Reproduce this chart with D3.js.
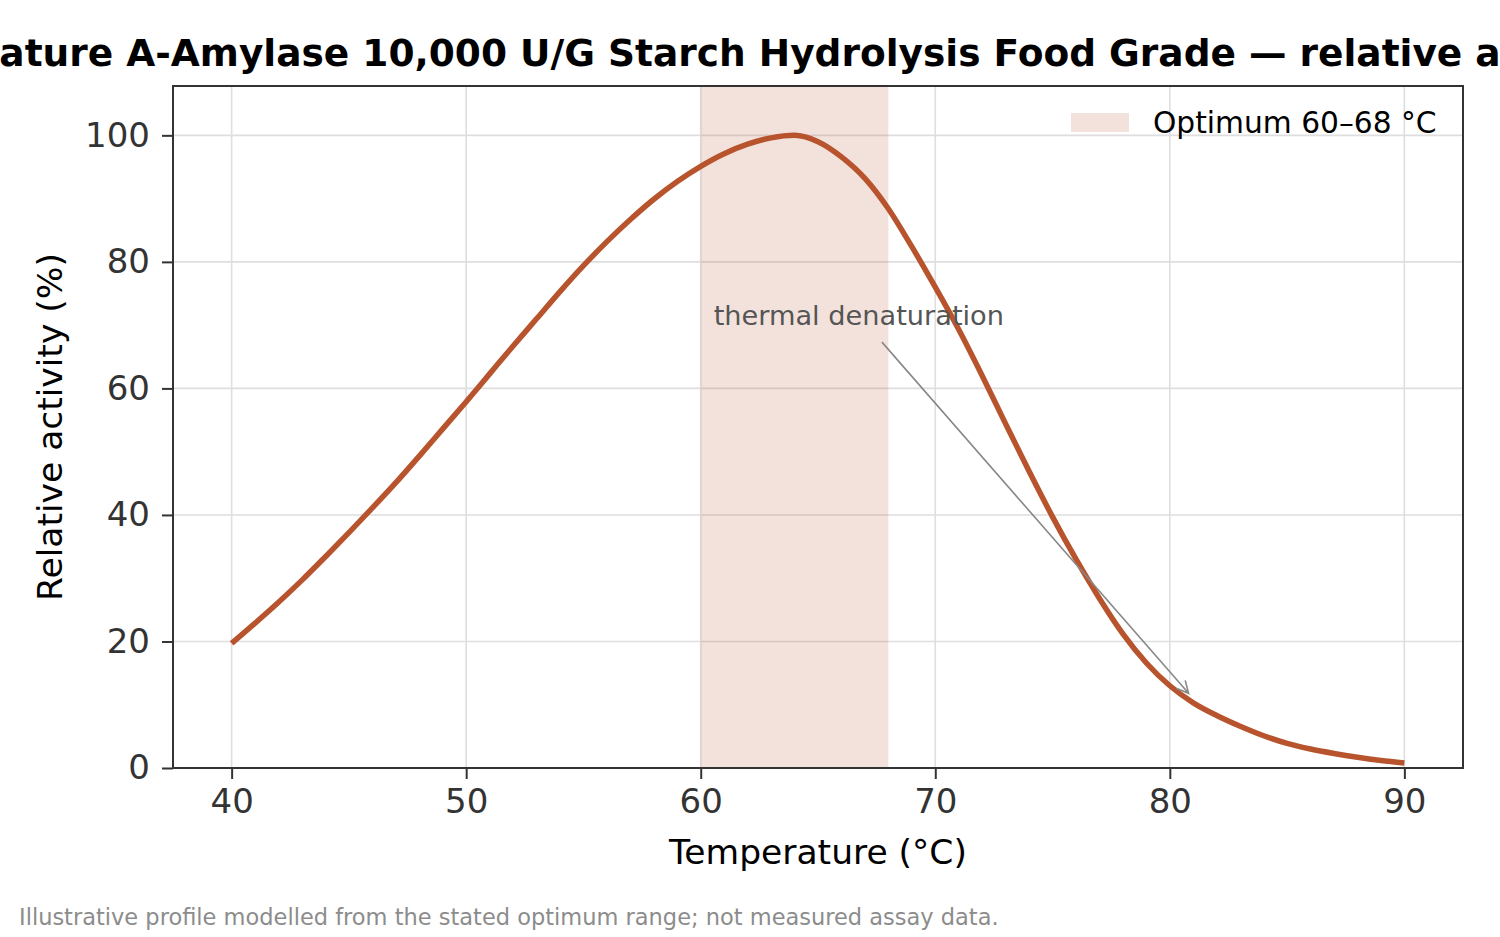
<!DOCTYPE html>
<html>
<head>
<meta charset="utf-8">
<script src="https://cdn.jsdelivr.net/npm/d3@7"></script>
<style>
  body { margin: 0; background: #fff; }
  svg { display: block; font-family: "DejaVu Sans", sans-serif; }
</style>
</head>
<body>
<div id="chart"></div>
<script>
// ---- data ----
const temps = [40,41,42,43,44,45,46,47,48,49,50,51,52,53,54,55,56,57,58,59,60,
               61,62,63,64,65,66,67,68,69,70,71,72,73,74,75,76,77,78,79,80,
               81,82,83,84,85,86,87,88,89,90];
const activity = [19.7,22.9,26.2,29.7,33.4,37.2,41.1,45.1,49.3,53.6,57.9,
                  62.3,66.7,71.0,75.3,79.4,83.2,86.7,89.9,92.7,95.1,
                  97.1,98.6,99.6,100.0,99.0,96.6,93.2,88.4,82.4,76.0,
                  69.3,62.0,54.4,46.9,39.7,33.0,26.8,21.2,16.6,13.0,
                  10.3,8.3,6.6,5.1,3.9,3.0,2.3,1.7,1.2,0.8];
const xTicks = [40,50,60,70,80,90];
const yTicks = [0,20,40,60,80,100];
const optimumRange = [60, 68];
const legendLabel = 'Optimum 60–68 °C';
const noteText = 'thermal denaturation';
const noteAt = [60.55, 70];      // text position (°C, %)
const noteArrowTo = [80.8, 11.8];
const titleHidden = 'High Temper';                       // falls off the left edge
const titleShown = 'ature A-Amylase 10,000 U/G Starch Hydrolysis Food Grade — relative a';
const titleTail = 'ctivity vs temperature';              // falls off the right edge
const xLabel = 'Temperature (°C)';
const yLabel = 'Relative activity (%)';
const footText = 'Illustrative profile modelled from the stated optimum range; not measured assay data.';

const W = 1500, H = 937;
const box = { left: 173, right: 1463, top: 86, bottom: 768 };
const lineColor = '#b8542d';
const axisColor = '#333333';
const gridColor = '#dedede';

const svg = d3.select('#chart').append('svg')
  .attr('width', W).attr('height', H);

const x = d3.scaleLinear().domain([37.5, 92.5]).range([box.left, box.right]);
const y = d3.scaleLinear().domain([0, 107.8]).range([box.bottom, box.top]);

// grid
const grid = svg.append('g');
grid.selectAll('line.gx').data(xTicks).join('line')
  .attr('x1', d => x(d)).attr('x2', d => x(d))
  .attr('y1', box.top).attr('y2', box.bottom)
  .attr('stroke', gridColor).attr('stroke-width', 1.6);
grid.selectAll('line.gy').data(yTicks).join('line')
  .attr('x1', box.left).attr('x2', box.right)
  .attr('y1', d => y(d)).attr('y2', d => y(d))
  .attr('stroke', gridColor).attr('stroke-width', 1.6);

// optimum band
svg.append('rect')
  .attr('x', x(optimumRange[0]))
  .attr('width', x(optimumRange[1]) - x(optimumRange[0]))
  .attr('y', box.top).attr('height', box.bottom - box.top)
  .attr('fill', lineColor).attr('fill-opacity', 0.17);

// curve
const pts = temps.map((t, i) => [t, activity[i]]);
svg.append('path')
  .datum(pts)
  .attr('fill', 'none')
  .attr('stroke', lineColor)
  .attr('stroke-width', 5.5)
  .attr('stroke-linejoin', 'round')
  .attr('stroke-linecap', 'butt')
  .attr('d', d3.line().x(d => x(d[0])).y(d => y(d[1])).curve(d3.curveMonotoneX));

// annotation
const note = svg.append('text')
  .attr('x', x(noteAt[0])).attr('y', y(noteAt[1]))
  .attr('fill', '#555').attr('font-size', '27.2px')
  .text(noteText);
const bb = note.node().getBBox();
const cx = bb.x + bb.width / 2, cy = bb.y + bb.height / 2;
const tx = x(noteArrowTo[0]), ty = y(noteArrowTo[1]);
const yStart = bb.y + bb.height + 11;
const k = (yStart - cy) / (ty - cy);
const sx = cx + k * (tx - cx);
const ang = Math.atan2(ty - yStart, tx - sx);
const hl = 12, hw = 6;
const bx = tx - hl * Math.cos(ang), byy = ty - hl * Math.sin(ang);
const px = -Math.sin(ang) * hw, py = Math.cos(ang) * hw;
svg.append('path')
  .attr('d', `M${sx},${yStart}L${tx},${ty}M${bx + px},${byy + py}L${tx},${ty}L${bx - px},${byy - py}`)
  .attr('fill', 'none').attr('stroke', '#888').attr('stroke-width', 1.6);

// axes frame
svg.append('rect')
  .attr('x', box.left).attr('y', box.top)
  .attr('width', box.right - box.left).attr('height', box.bottom - box.top)
  .attr('fill', 'none').attr('stroke', axisColor).attr('stroke-width', 2);

const xAxis = svg.append('g')
  .attr('transform', `translate(0,${box.bottom})`)
  .call(d3.axisBottom(x).tickValues(xTicks).tickSize(11).tickPadding(10).tickFormat(d3.format('d')));
const yAxis = svg.append('g')
  .attr('transform', `translate(${box.left},0)`)
  .call(d3.axisLeft(y).tickValues(yTicks).tickSize(11).tickPadding(12).tickFormat(d3.format('d')));
[xAxis, yAxis].forEach(a => {
  a.select('.domain').remove();
  a.selectAll('.tick line').attr('stroke', axisColor).attr('stroke-width', 2);
  a.selectAll('.tick text').attr('fill', axisColor)
    .attr('font-family', '"DejaVu Sans", sans-serif').attr('font-size', '34px');
});

// axis labels
svg.append('text')
  .attr('x', (box.left + box.right) / 2).attr('y', 864)
  .attr('text-anchor', 'middle').attr('font-size', '34.5px').attr('fill', '#000')
  .text(xLabel);
svg.append('text')
  .attr('transform', `translate(62,${(box.top + box.bottom) / 2}) rotate(-90)`)
  .attr('text-anchor', 'middle').attr('font-size', '34.5px').attr('fill', '#000')
  .text(yLabel);

// legend
const leg = svg.append('g').attr('transform', 'translate(1071,113)');
leg.append('rect').attr('width', 58).attr('height', 19)
  .attr('fill', lineColor).attr('fill-opacity', 0.17);
leg.append('text').attr('x', 82).attr('y', 20)
  .attr('font-size', '29.7px').attr('fill', '#000').text(legendLabel);

// title: wider than the page, the visible middle part is centred on the page
const titleFont = '37.5px';
const measure = s => {
  const t = svg.append('text').attr('font-size', titleFont).attr('font-weight', 'bold').text(s);
  const w = t.node().getComputedTextLength();
  t.remove();
  return w;
};
const hiddenW = measure(titleHidden);
const shownW = measure(titleShown);
svg.append('text')
  .attr('x', W / 2 - shownW / 2 - hiddenW).attr('y', 66)
  .attr('font-size', titleFont).attr('font-weight', 'bold').attr('fill', '#000')
  .text(titleHidden + titleShown + titleTail);

// footnote
svg.append('text')
  .attr('x', 19).attr('y', 925)
  .attr('font-size', '22.5px').attr('fill', '#8c8c8c')
  .text(footText);
</script>
</body>
</html>
